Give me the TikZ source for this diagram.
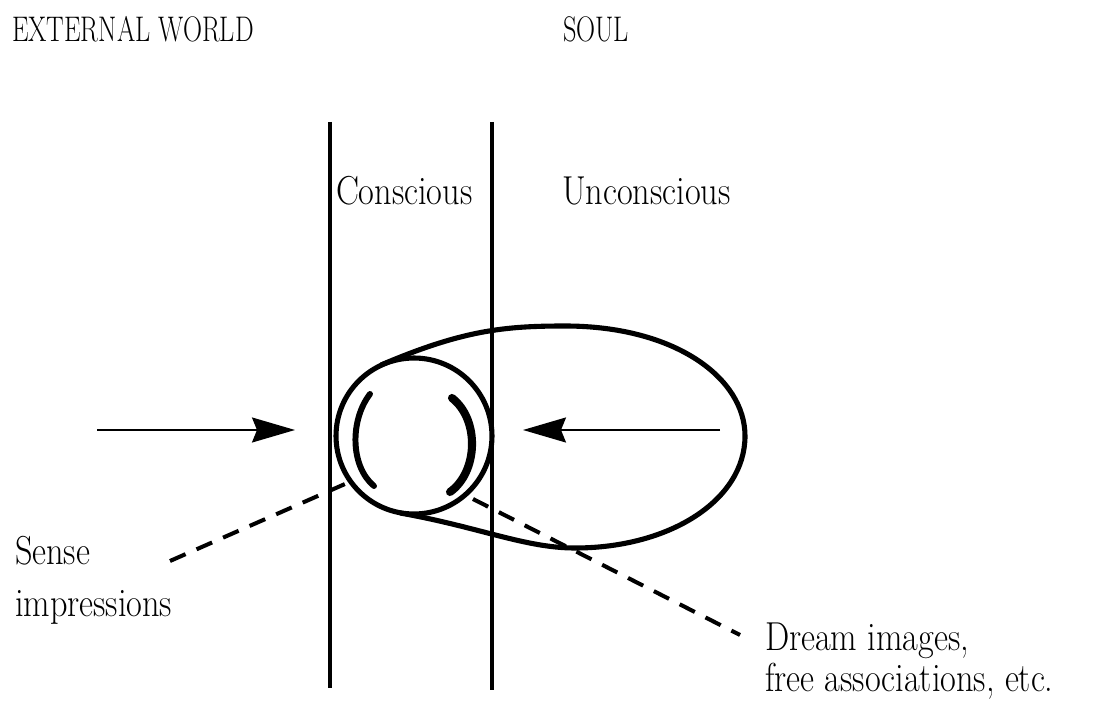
\documentclass[tikz,border=0pt]{standalone}
\usepackage{tikz}
\usetikzlibrary{
  arrows.meta,
  positioning
}
\newcommand{\tallhead}[1]{\scalebox{1}[1.35]{#1}}
\newcommand{\talltext}[1]{\scalebox{1}[1.18]{#1}}

\begin{document}
\begin{tikzpicture}[
  x=0.02cm, y=-0.02cm,
  every node/.style={inner sep=0pt, outer sep=0pt},
  headtext/.style={anchor=base west, font=\fontsize{15}{18}\selectfont},
  zonetext/.style={anchor=base west, font=\fontsize{19.5}{24}\selectfont},
  labeltext/.style={anchor=base west, font=\fontsize{19.5}{24}\selectfont},
  wall/.style={line width=1.8pt},
  shell/.style={line width=2.9pt},
  crescent/.style={line width=3.4pt, line cap=round},
  arr/.style={-{Stealth[length=0.86cm, width=0.5cm, inset=0.1cm]}, line width=1.1pt},
  dashlink/.style={line width=2.3pt, dash pattern=on 0.34cm off 0.24cm},
]
  \useasboundingbox (0,0) rectangle (1110,709);

  % Headings
  \node[headtext] (ext) at (12,42) {\tallhead{EXTERNAL WORLD}};
  \node[headtext] (soul) at (563,42) {\tallhead{SOUL}};
  \node[zonetext] (cons) at (336,205) {\talltext{Conscious}};
  \node[zonetext] (uncons) at (562,205) {\talltext{Unconscious}};

  % Labels
  \node[labeltext] (sense) at (15,565) {\talltext{Sense}};
  \node[labeltext] (impr) at (15,617) {\talltext{impressions}};
  \node[labeltext] (dream) at (765,651) {\talltext{Dream images,}};
  \node[labeltext] (assoc) at (765,692) {\talltext{free associations, etc.}};

  % Walls
  \draw[wall] (330,122) -- (330,688);
  \draw[wall] (492,122) -- (492,690);

  % Soul shape
  \node[circle, draw, shell, minimum size=3.12cm] (ego) at (414,436) {};
  \draw[shell] (381,365) .. controls (463,330) and (505,326) .. (565,326)
    .. controls (675,326) and (745,378) .. (745,436)
    .. controls (745,500) and (670,548) .. (575,548)
    .. controls (525,548) and (479,527) .. (400,513);
  \draw[crescent] (370,394) .. controls (350,420) and (350,466) .. (374,486);
  \draw[crescent, line width=4.6pt] (452,398) .. controls (480,420) and (478,472) .. (450,492);

  % Edges
  \coordinate (inL) at (97,430);
  \coordinate (tipL) at (295,430);
  \coordinate (inR) at (720,430);
  \coordinate (tipR) at (523,430);
  \draw[arr] (inL) -- (tipL);
  \draw[arr] (inR) -- (tipR);

  \coordinate (senseA) at (170,561);
  \coordinate (senseB) at (345,484);
  \coordinate (dreamA) at (473,499);
  \coordinate (dreamB) at (740,635);
  \draw[dashlink] (senseA) -- (senseB);
  \draw[dashlink] (dreamA) -- (dreamB);
\end{tikzpicture}
\end{document}
